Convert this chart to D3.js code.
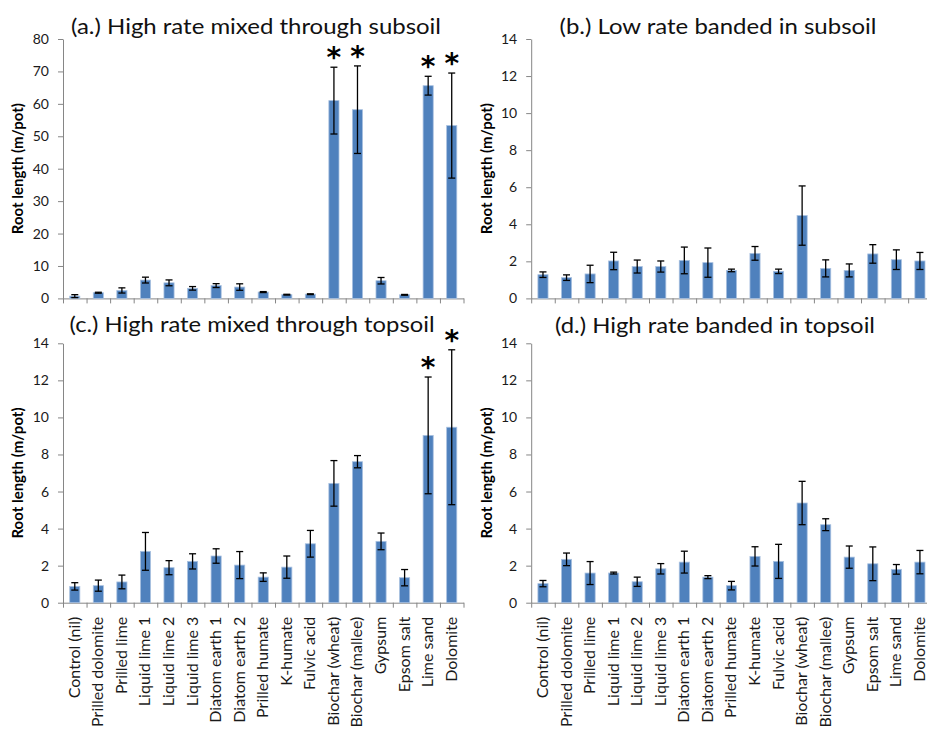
<!DOCTYPE html>
<meta charset="utf-8">
<style>
    body { margin: 0; background: white; }
    text { font-family: Lato, "Noto Sans", sans-serif; }
    .axis path, .axis line { stroke: #868686; }
    .axis text { fill: #1a1a1a; font-size: 14px; font-family: Lato, sans-serif; }
</style>
<body>
<script src="https://d3js.org/d3.v7.min.js"></script>
<script>
    var categories = ["Control (nil)", "Prilled dolomite", "Prilled lime", "Liquid lime 1",
        "Liquid lime 2", "Liquid lime 3", "Diatom earth 1", "Diatom earth 2", "Prilled humate",
        "K-humate", "Fulvic acid", "Biochar (wheat)", "Biochar (mallee)", "Gypsum",
        "Epsom salt", "Lime sand", "Dolomite"];

    // mean root length and error (m/pot)
    var meanA = [0.7, 1.75, 2.45, 5.65, 4.8, 3.1, 3.95, 3.5, 1.95, 1.15, 1.3, 61.0, 58.2, 5.45, 1.1, 65.6, 53.3];
    var errA  = [0.45, 0.15, 0.8, 0.9, 0.9, 0.55, 0.6, 1.0, 0.15, 0.12, 0.12, 10.3, 13.5, 1.0, 0.12, 2.9, 16.2];

    var meanB = [1.28, 1.12, 1.32, 2.02, 1.72, 1.72, 2.05, 1.93, 1.51, 2.43, 1.46, 4.47, 1.62, 1.51, 2.40, 2.09, 2.02];
    var errB  = [0.15, 0.15, 0.47, 0.47, 0.35, 0.3, 0.72, 0.79, 0.07, 0.37, 0.12, 1.6, 0.46, 0.35, 0.5, 0.53, 0.46];

    var meanC = [0.88, 0.92, 1.12, 2.77, 1.89, 2.23, 2.52, 2.03, 1.38, 1.92, 3.18, 6.44, 7.61, 3.31, 1.35, 9.03, 9.47];
    var errC  = [0.2, 0.3, 0.37, 1.02, 0.38, 0.41, 0.39, 0.73, 0.23, 0.6, 0.72, 1.23, 0.33, 0.45, 0.44, 3.15, 4.18];

    var meanD = [1.03, 2.34, 1.6, 1.6, 1.13, 1.83, 2.19, 1.38, 0.92, 2.5, 2.23, 5.38, 4.21, 2.46, 2.1, 1.8, 2.19];
    var errD  = [0.17, 0.34, 0.62, 0.05, 0.25, 0.28, 0.59, 0.08, 0.23, 0.52, 0.92, 1.17, 0.32, 0.6, 0.91, 0.26, 0.63];

    var starsA = ["Biochar (wheat)", "Biochar (mallee)", "Lime sand", "Dolomite"];
    var starsC = ["Lime sand", "Dolomite"];

    var ticksA = [0, 10, 20, 30, 40, 50, 60, 70, 80];
    var ticks14 = [0, 2, 4, 6, 8, 10, 12, 14];

    var titles = ["(a.) High rate mixed through subsoil", "(b.) Low rate banded in subsoil",
        "(c.) High rate mixed through topsoil", "(d.) High rate banded in topsoil"];
    var yLabel = "Root length (m/pot)";

    var width = 927,
        height = 733;

    var svg = d3.select("body").append("svg")
        .attr("width", width)
        .attr("height", height);

    var plotW = 400.5, plotH = 259.4;

    var panels = [
        {x: 63,    y: 39,    mean: meanA, err: errA, ticks: ticksA,  stars: starsA, title: titles[0], tx: 256, ty: 34,  tw: 370, labels: false},
        {x: 531.2, y: 39,    mean: meanB, err: errB, ticks: ticks14, stars: [],     title: titles[1], tx: 718, ty: 34,  tw: 317, labels: false},
        {x: 63,    y: 343.3, mean: meanC, err: errC, ticks: ticks14, stars: starsC, title: titles[2], tx: 252, ty: 332, tw: 365, labels: true},
        {x: 531.2, y: 343.3, mean: meanD, err: errD, ticks: ticks14, stars: [],     title: titles[3], tx: 715, ty: 333, tw: 320, labels: true}
    ];

    panels.forEach(function(p) {
        var g = svg.append("g").attr("transform", "translate(" + p.x + "," + p.y + ")");

        var x = d3.scaleBand()
            .domain(categories)
            .range([0, plotW])
            .paddingInner(0.57)
            .paddingOuter(0.285);

        var xEdge = d3.scaleLinear().domain([0, categories.length]).range([0, plotW]);

        var y = d3.scaleLinear()
            .domain([0, d3.max(p.ticks)])
            .range([plotH, 0]);

        var data = categories.map(function(c, i) {
            return {cat: c, v: p.mean[i], e: p.err[i]};
        });

        // y axis
        g.append("g")
            .attr("class", "axis")
            .call(d3.axisLeft(y).tickValues(p.ticks).tickSize(5).tickSizeOuter(0).tickPadding(9));

        // x axis with ticks on category boundaries
        g.append("g")
            .attr("class", "axis")
            .attr("transform", "translate(0," + plotH + ")")
            .call(d3.axisBottom(xEdge).tickValues(d3.range(0, categories.length + 1))
                .tickFormat("").tickSize(5).tickSizeOuter(0));

        if (p.labels) {
            g.selectAll(".cat")
                .data(categories)
                .enter().append("text")
                .attr("class", "cat")
                .attr("transform", function(d) {
                    return "translate(" + (x(d) + x.bandwidth() / 2 + 5) + "," + (plotH + 14) + ") rotate(-90)";
                })
                .attr("text-anchor", "end")
                .style("font-size", "16px")
                .style("fill", "#1a1a1a")
                .text(function(d) { return d; });
        }

        // bars
        g.selectAll(".bar")
            .data(data)
            .enter().append("rect")
            .attr("x", function(d) { return x(d.cat); })
            .attr("y", function(d) { return y(d.v); })
            .attr("width", x.bandwidth())
            .attr("height", function(d) { return plotH - y(d.v); })
            .style("fill", "#4f81bd")
            .style("stroke", "#a9c1e0")
            .style("stroke-width", 0.8);

        // error bars
        var eb = g.selectAll(".err")
            .data(data)
            .enter().append("g")
            .attr("transform", function(d) { return "translate(" + (x(d.cat) + x.bandwidth() / 2) + ",0)"; });

        eb.append("line")
            .attr("y1", function(d) { return y(d.v - d.e); })
            .attr("y2", function(d) { return y(d.v + d.e); })
            .style("stroke", "black").style("stroke-width", 1.3);
        eb.append("line")
            .attr("x1", -3.5).attr("x2", 3.5)
            .attr("y1", function(d) { return y(d.v + d.e); })
            .attr("y2", function(d) { return y(d.v + d.e); })
            .style("stroke", "black").style("stroke-width", 1.3);
        eb.append("line")
            .attr("x1", -3.5).attr("x2", 3.5)
            .attr("y1", function(d) { return y(d.v - d.e); })
            .attr("y2", function(d) { return y(d.v - d.e); })
            .style("stroke", "black").style("stroke-width", 1.3);

        // significance stars
        g.selectAll(".star")
            .data(data.filter(function(d) { return p.stars.indexOf(d.cat) >= 0; }))
            .enter().append("text")
            .attr("x", function(d) { return x(d.cat) + x.bandwidth() / 2; })
            .attr("y", function(d) { return y(d.v + d.e); })
            .attr("text-anchor", "middle")
            .style("font-family", "'DejaVu Sans', sans-serif")
            .style("font-weight", "bold")
            .style("font-size", "28px")
            .text("*");

        // y label
        g.append("text")
            .attr("transform", "translate(" + (p.x < 100 ? 18 - p.x : 487 - p.x) + "," + (plotH / 2) + ") rotate(-90)")
            .attr("text-anchor", "middle")
            .attr("dy", "0.35em")
            .style("font-weight", "bold")
            .style("font-size", "15px")
            .text(yLabel);

        // title
        svg.append("text")
            .attr("x", p.tx)
            .attr("y", p.ty)
            .attr("text-anchor", "middle")
            .attr("textLength", p.tw)
            .attr("lengthAdjust", "spacingAndGlyphs")
            .style("font-size", "22px")
            .style("fill", "#111")
            .text(p.title);
    });
</script>
</body>
</html>
